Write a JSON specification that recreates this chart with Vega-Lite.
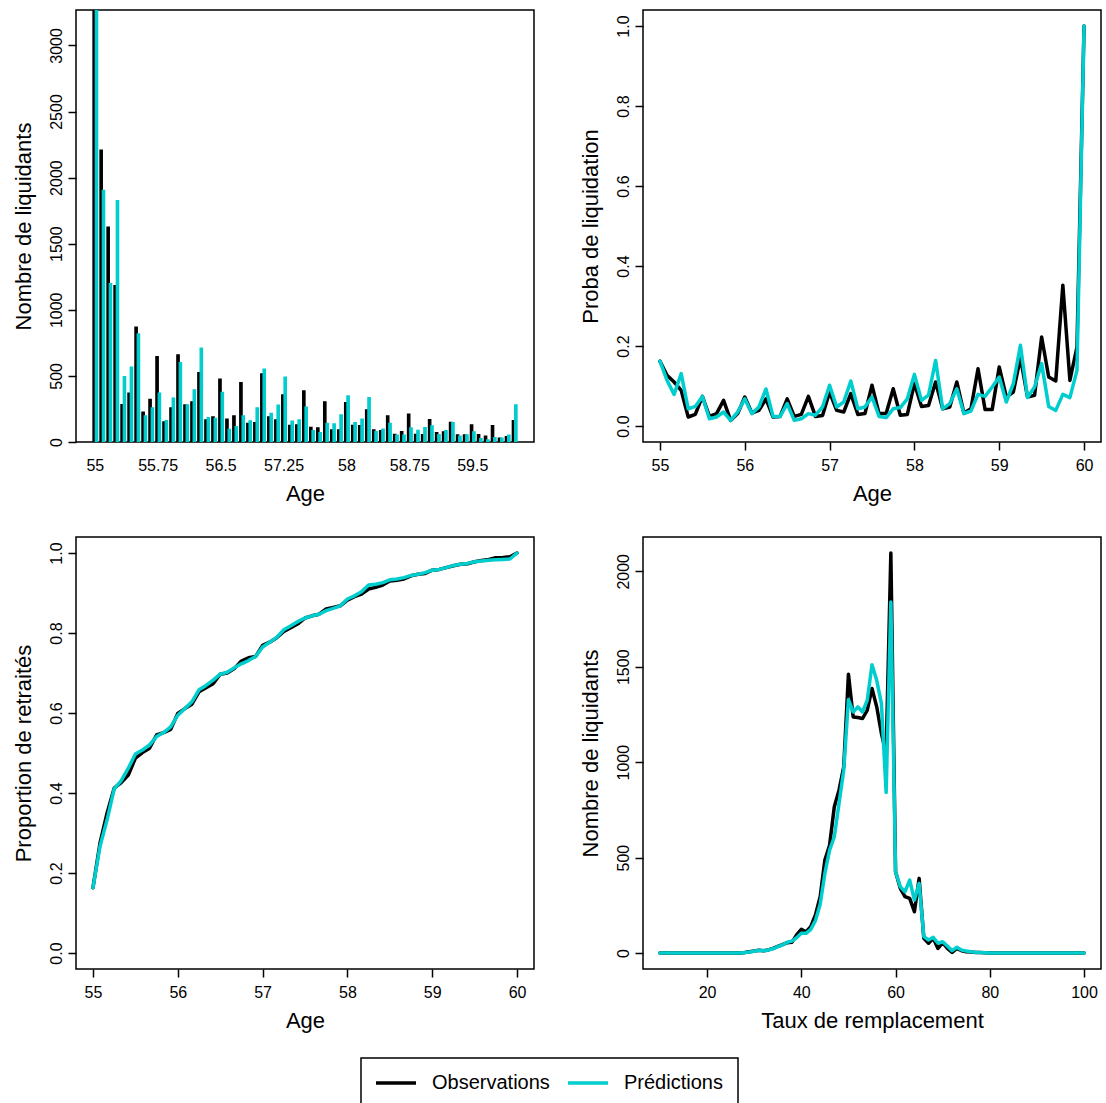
{
  "$schema": "https://vega.github.io/schema/vega-lite/v6.json",
  "padding": {"left": 11, "top": 9, "right": 5, "bottom": 0},
  "background": "white",
  "config": {
    "font": "Liberation Sans",
    "view": {"stroke": "black", "strokeWidth": 1.5},
    "axis": {"domain": false, "grid": false, "tickColor": "black", "tickWidth": 1.5, "labelColor": "black", "labelFont": "Liberation Sans", "labelFontSize": 16, "titleFont": "Liberation Sans", "titleFontSize": 22, "titleFontWeight": "normal", "titleColor": "black", "labelFlush": false, "labelOverlap": false},
    "legend": {"labelFontSize": 20, "labelColor": "black", "labelFont": "Liberation Sans", "strokeColor": "black", "strokeWidth": 1.5, "fillColor": "white"},
    "line": {"strokeWidth": 3.5, "strokeJoin": "round", "strokeCap": "round"}
  },
  "datasets": {
    "ages": [
      {"age":55,"serie":"Observations","n":3400,"proba":0.162,"cumul":0.163},
      {"age":55.0833,"serie":"Observations","n":2207,"proba":0.127,"cumul":0.275},
      {"age":55.1667,"serie":"Observations","n":1626,"proba":0.11,"cumul":0.35},
      {"age":55.25,"serie":"Observations","n":1182,"proba":0.089,"cumul":0.412},
      {"age":55.3333,"serie":"Observations","n":283,"proba":0.0225,"cumul":0.426},
      {"age":55.4167,"serie":"Observations","n":369,"proba":0.029,"cumul":0.445},
      {"age":55.5,"serie":"Observations","n":869,"proba":0.074,"cumul":0.487},
      {"age":55.5833,"serie":"Observations","n":225,"proba":0.024,"cumul":0.501},
      {"age":55.6667,"serie":"Observations","n":323,"proba":0.031,"cumul":0.512},
      {"age":55.75,"serie":"Observations","n":646,"proba":0.064,"cumul":0.545},
      {"age":55.8333,"serie":"Observations","n":152,"proba":0.014,"cumul":0.551},
      {"age":55.9167,"serie":"Observations","n":258,"proba":0.031,"cumul":0.559},
      {"age":56,"serie":"Observations","n":659,"proba":0.0725,"cumul":0.599},
      {"age":56.0833,"serie":"Observations","n":280,"proba":0.0325,"cumul":0.611},
      {"age":56.1667,"serie":"Observations","n":303,"proba":0.039,"cumul":0.622},
      {"age":56.25,"serie":"Observations","n":525,"proba":0.068,"cumul":0.653},
      {"age":56.3333,"serie":"Observations","n":167,"proba":0.0225,"cumul":0.663},
      {"age":56.4167,"serie":"Observations","n":189,"proba":0.024,"cumul":0.673},
      {"age":56.5,"serie":"Observations","n":475,"proba":0.068,"cumul":0.697},
      {"age":56.5833,"serie":"Observations","n":172,"proba":0.024,"cumul":0.7},
      {"age":56.6667,"serie":"Observations","n":197,"proba":0.029,"cumul":0.711},
      {"age":56.75,"serie":"Observations","n":449,"proba":0.074,"cumul":0.73},
      {"age":56.8333,"serie":"Observations","n":141,"proba":0.024,"cumul":0.738},
      {"age":56.9167,"serie":"Observations","n":146,"proba":0.026,"cumul":0.741},
      {"age":57,"serie":"Observations","n":515,"proba":0.085,"cumul":0.769},
      {"age":57.0833,"serie":"Observations","n":189,"proba":0.039,"cumul":0.777},
      {"age":57.1667,"serie":"Observations","n":167,"proba":0.035,"cumul":0.788},
      {"age":57.25,"serie":"Observations","n":356,"proba":0.081,"cumul":0.804},
      {"age":57.3333,"serie":"Observations","n":126,"proba":0.029,"cumul":0.813},
      {"age":57.4167,"serie":"Observations","n":129,"proba":0.031,"cumul":0.823},
      {"age":57.5,"serie":"Observations","n":386,"proba":0.102,"cumul":0.8375},
      {"age":57.5833,"serie":"Observations","n":111,"proba":0.031,"cumul":0.843},
      {"age":57.6667,"serie":"Observations","n":106,"proba":0.031,"cumul":0.847},
      {"age":57.75,"serie":"Observations","n":303,"proba":0.093,"cumul":0.86},
      {"age":57.8333,"serie":"Observations","n":91,"proba":0.027,"cumul":0.864},
      {"age":57.9167,"serie":"Observations","n":91,"proba":0.029,"cumul":0.868},
      {"age":58,"serie":"Observations","n":298,"proba":0.106,"cumul":0.882},
      {"age":58.0833,"serie":"Observations","n":126,"proba":0.049,"cumul":0.891},
      {"age":58.1667,"serie":"Observations","n":124,"proba":0.051,"cumul":0.897},
      {"age":58.25,"serie":"Observations","n":242,"proba":0.11,"cumul":0.91},
      {"age":58.3333,"serie":"Observations","n":91,"proba":0.043,"cumul":0.914},
      {"age":58.4167,"serie":"Observations","n":86,"proba":0.0475,"cumul":0.92},
      {"age":58.5,"serie":"Observations","n":197,"proba":0.11,"cumul":0.93},
      {"age":58.5833,"serie":"Observations","n":58,"proba":0.0325,"cumul":0.932},
      {"age":58.6667,"serie":"Observations","n":78,"proba":0.043,"cumul":0.935},
      {"age":58.75,"serie":"Observations","n":210,"proba":0.143,"cumul":0.943},
      {"age":58.8333,"serie":"Observations","n":58,"proba":0.041,"cumul":0.947},
      {"age":58.9167,"serie":"Observations","n":56,"proba":0.041,"cumul":0.949},
      {"age":59,"serie":"Observations","n":169,"proba":0.1475,"cumul":0.957},
      {"age":59.0833,"serie":"Observations","n":71,"proba":0.0725,"cumul":0.959},
      {"age":59.1667,"serie":"Observations","n":76,"proba":0.085,"cumul":0.9635},
      {"age":59.25,"serie":"Observations","n":149,"proba":0.171,"cumul":0.968},
      {"age":59.3333,"serie":"Observations","n":53,"proba":0.0725,"cumul":0.972},
      {"age":59.4167,"serie":"Observations","n":53,"proba":0.077,"cumul":0.973},
      {"age":59.5,"serie":"Observations","n":129,"proba":0.2225,"cumul":0.978},
      {"age":59.5833,"serie":"Observations","n":56,"proba":0.1225,"cumul":0.981},
      {"age":59.6667,"serie":"Observations","n":45,"proba":0.1125,"cumul":0.984},
      {"age":59.75,"serie":"Observations","n":124,"proba":0.352,"cumul":0.988},
      {"age":59.8333,"serie":"Observations","n":30,"proba":0.114,"cumul":0.989},
      {"age":59.9167,"serie":"Observations","n":40,"proba":0.1975,"cumul":0.9905},
      {"age":60,"serie":"Observations","n":162,"proba":1,"cumul":1},
      {"age":55,"serie":"Prédictions","n":3350,"proba":0.162,"cumul":0.163},
      {"age":55.0833,"serie":"Prédictions","n":1904,"proba":0.114,"cumul":0.267},
      {"age":55.1667,"serie":"Prédictions","n":1197,"proba":0.079,"cumul":0.333},
      {"age":55.25,"serie":"Prédictions","n":1826,"proba":0.131,"cumul":0.41},
      {"age":55.3333,"serie":"Prédictions","n":495,"proba":0.043,"cumul":0.431},
      {"age":55.4167,"serie":"Prédictions","n":566,"proba":0.049,"cumul":0.462},
      {"age":55.5,"serie":"Prédictions","n":818,"proba":0.074,"cumul":0.4975},
      {"age":55.5833,"serie":"Prédictions","n":197,"proba":0.018,"cumul":0.5075},
      {"age":55.6667,"serie":"Prédictions","n":258,"proba":0.0225,"cumul":0.52},
      {"age":55.75,"serie":"Prédictions","n":369,"proba":0.035,"cumul":0.541},
      {"age":55.8333,"serie":"Prédictions","n":162,"proba":0.014,"cumul":0.551},
      {"age":55.9167,"serie":"Prédictions","n":331,"proba":0.035,"cumul":0.5655},
      {"age":56,"serie":"Prédictions","n":601,"proba":0.068,"cumul":0.5945},
      {"age":56.0833,"serie":"Prédictions","n":280,"proba":0.031,"cumul":0.611},
      {"age":56.1667,"serie":"Prédictions","n":394,"proba":0.0475,"cumul":0.628},
      {"age":56.25,"serie":"Prédictions","n":710,"proba":0.0925,"cumul":0.658},
      {"age":56.3333,"serie":"Prédictions","n":184,"proba":0.024,"cumul":0.669},
      {"age":56.4167,"serie":"Prédictions","n":179,"proba":0.024,"cumul":0.682},
      {"age":56.5,"serie":"Prédictions","n":376,"proba":0.056,"cumul":0.697},
      {"age":56.5833,"serie":"Prédictions","n":96,"proba":0.014,"cumul":0.702},
      {"age":56.6667,"serie":"Prédictions","n":116,"proba":0.018,"cumul":0.713},
      {"age":56.75,"serie":"Prédictions","n":197,"proba":0.031,"cumul":0.723},
      {"age":56.8333,"serie":"Prédictions","n":159,"proba":0.027,"cumul":0.731},
      {"age":56.9167,"serie":"Prédictions","n":258,"proba":0.0475,"cumul":0.741},
      {"age":57,"serie":"Prédictions","n":551,"proba":0.102,"cumul":0.765},
      {"age":57.0833,"serie":"Prédictions","n":217,"proba":0.0475,"cumul":0.777},
      {"age":57.1667,"serie":"Prédictions","n":278,"proba":0.06,"cumul":0.789},
      {"age":57.25,"serie":"Prédictions","n":490,"proba":0.1125,"cumul":0.808},
      {"age":57.3333,"serie":"Prédictions","n":157,"proba":0.043,"cumul":0.818},
      {"age":57.4167,"serie":"Prédictions","n":167,"proba":0.0475,"cumul":0.829},
      {"age":57.5,"serie":"Prédictions","n":263,"proba":0.0725,"cumul":0.8375},
      {"age":57.5833,"serie":"Prédictions","n":86,"proba":0.024,"cumul":0.843},
      {"age":57.6667,"serie":"Prédictions","n":71,"proba":0.021,"cumul":0.847},
      {"age":57.75,"serie":"Prédictions","n":141,"proba":0.043,"cumul":0.856},
      {"age":57.8333,"serie":"Prédictions","n":136,"proba":0.046,"cumul":0.8615},
      {"age":57.9167,"serie":"Prédictions","n":205,"proba":0.068,"cumul":0.868},
      {"age":58,"serie":"Prédictions","n":348,"proba":0.129,"cumul":0.885},
      {"age":58.0833,"serie":"Prédictions","n":146,"proba":0.064,"cumul":0.893},
      {"age":58.1667,"serie":"Prédictions","n":172,"proba":0.077,"cumul":0.903},
      {"age":58.25,"serie":"Prédictions","n":336,"proba":0.164,"cumul":0.92},
      {"age":58.3333,"serie":"Prédictions","n":78,"proba":0.043,"cumul":0.922},
      {"age":58.4167,"serie":"Prédictions","n":98,"proba":0.056,"cumul":0.926},
      {"age":58.5,"serie":"Prédictions","n":141,"proba":0.093,"cumul":0.933},
      {"age":58.5833,"serie":"Prédictions","n":51,"proba":0.031,"cumul":0.935},
      {"age":58.6667,"serie":"Prédictions","n":51,"proba":0.0375,"cumul":0.9385},
      {"age":58.75,"serie":"Prédictions","n":106,"proba":0.079,"cumul":0.944},
      {"age":58.8333,"serie":"Prédictions","n":88,"proba":0.074,"cumul":0.947},
      {"age":58.9167,"serie":"Prédictions","n":109,"proba":0.0975,"cumul":0.951},
      {"age":59,"serie":"Prédictions","n":121,"proba":0.1225,"cumul":0.957},
      {"age":59.0833,"serie":"Prédictions","n":56,"proba":0.06,"cumul":0.959},
      {"age":59.1667,"serie":"Prédictions","n":86,"proba":0.106,"cumul":0.9635},
      {"age":59.25,"serie":"Prédictions","n":146,"proba":0.2017,"cumul":0.969},
      {"age":59.3333,"serie":"Prédictions","n":45,"proba":0.071,"cumul":0.972},
      {"age":59.4167,"serie":"Prédictions","n":53,"proba":0.0975,"cumul":0.974},
      {"age":59.5,"serie":"Prédictions","n":76,"proba":0.156,"cumul":0.978},
      {"age":59.5833,"serie":"Prédictions","n":25,"proba":0.049,"cumul":0.98},
      {"age":59.6667,"serie":"Prédictions","n":15,"proba":0.039,"cumul":0.982},
      {"age":59.75,"serie":"Prédictions","n":33,"proba":0.079,"cumul":0.983},
      {"age":59.8333,"serie":"Prédictions","n":30,"proba":0.071,"cumul":0.984},
      {"age":59.9167,"serie":"Prédictions","n":51,"proba":0.139,"cumul":0.985},
      {"age":60,"serie":"Prédictions","n":280,"proba":1,"cumul":1}
    ],
    "taux": [
      {"taux":10,"serie":"Observations","n":0},{"taux":11,"serie":"Observations","n":0},{"taux":12,"serie":"Observations","n":0},{"taux":13,"serie":"Observations","n":0},{"taux":14,"serie":"Observations","n":0},{"taux":15,"serie":"Observations","n":0},{"taux":16,"serie":"Observations","n":0},{"taux":17,"serie":"Observations","n":0},{"taux":18,"serie":"Observations","n":0},{"taux":19,"serie":"Observations","n":0},
      {"taux":20,"serie":"Observations","n":0},{"taux":21,"serie":"Observations","n":0},{"taux":22,"serie":"Observations","n":0},{"taux":23,"serie":"Observations","n":0},{"taux":24,"serie":"Observations","n":0},{"taux":25,"serie":"Observations","n":0},{"taux":26,"serie":"Observations","n":0},{"taux":27,"serie":"Observations","n":0},{"taux":28,"serie":"Observations","n":3},{"taux":29,"serie":"Observations","n":7},
      {"taux":30,"serie":"Observations","n":10},{"taux":31,"serie":"Observations","n":14},{"taux":32,"serie":"Observations","n":12},{"taux":33,"serie":"Observations","n":16},{"taux":34,"serie":"Observations","n":24},{"taux":35,"serie":"Observations","n":35},{"taux":36,"serie":"Observations","n":44},{"taux":37,"serie":"Observations","n":54},{"taux":38,"serie":"Observations","n":56},{"taux":39,"serie":"Observations","n":95},
      {"taux":40,"serie":"Observations","n":124},{"taux":41,"serie":"Observations","n":110},{"taux":42,"serie":"Observations","n":138},{"taux":43,"serie":"Observations","n":200},{"taux":44,"serie":"Observations","n":295},{"taux":45,"serie":"Observations","n":487},{"taux":46,"serie":"Observations","n":565},{"taux":47,"serie":"Observations","n":766},{"taux":48,"serie":"Observations","n":853},{"taux":49,"serie":"Observations","n":976},
      {"taux":50,"serie":"Observations","n":1461},{"taux":51,"serie":"Observations","n":1237},{"taux":52,"serie":"Observations","n":1234},{"taux":53,"serie":"Observations","n":1229},{"taux":54,"serie":"Observations","n":1272},{"taux":55,"serie":"Observations","n":1386},{"taux":56,"serie":"Observations","n":1290},{"taux":57,"serie":"Observations","n":1150},{"taux":58,"serie":"Observations","n":1045},{"taux":59,"serie":"Observations","n":2096},
      {"taux":60,"serie":"Observations","n":426},{"taux":61,"serie":"Observations","n":339},{"taux":62,"serie":"Observations","n":295},{"taux":63,"serie":"Observations","n":286},{"taux":64,"serie":"Observations","n":216},{"taux":65,"serie":"Observations","n":391},{"taux":66,"serie":"Observations","n":77},{"taux":67,"serie":"Observations","n":51},{"taux":68,"serie":"Observations","n":77},{"taux":69,"serie":"Observations","n":24},
      {"taux":70,"serie":"Observations","n":54},{"taux":71,"serie":"Observations","n":24},{"taux":72,"serie":"Observations","n":3},{"taux":73,"serie":"Observations","n":24},{"taux":74,"serie":"Observations","n":12},{"taux":75,"serie":"Observations","n":7},{"taux":76,"serie":"Observations","n":5},{"taux":77,"serie":"Observations","n":3},{"taux":78,"serie":"Observations","n":2},{"taux":79,"serie":"Observations","n":1},
      {"taux":80,"serie":"Observations","n":0},{"taux":81,"serie":"Observations","n":0},{"taux":82,"serie":"Observations","n":0},{"taux":83,"serie":"Observations","n":0},{"taux":84,"serie":"Observations","n":0},{"taux":85,"serie":"Observations","n":0},{"taux":86,"serie":"Observations","n":0},{"taux":87,"serie":"Observations","n":0},{"taux":88,"serie":"Observations","n":0},{"taux":89,"serie":"Observations","n":0},
      {"taux":90,"serie":"Observations","n":0},{"taux":91,"serie":"Observations","n":0},{"taux":92,"serie":"Observations","n":0},{"taux":93,"serie":"Observations","n":0},{"taux":94,"serie":"Observations","n":0},{"taux":95,"serie":"Observations","n":0},{"taux":96,"serie":"Observations","n":0},{"taux":97,"serie":"Observations","n":0},{"taux":98,"serie":"Observations","n":0},{"taux":99,"serie":"Observations","n":0},{"taux":100,"serie":"Observations","n":0},
      {"taux":10,"serie":"Prédictions","n":0},{"taux":11,"serie":"Prédictions","n":0},{"taux":12,"serie":"Prédictions","n":0},{"taux":13,"serie":"Prédictions","n":0},{"taux":14,"serie":"Prédictions","n":0},{"taux":15,"serie":"Prédictions","n":0},{"taux":16,"serie":"Prédictions","n":0},{"taux":17,"serie":"Prédictions","n":0},{"taux":18,"serie":"Prédictions","n":0},{"taux":19,"serie":"Prédictions","n":0},
      {"taux":20,"serie":"Prédictions","n":0},{"taux":21,"serie":"Prédictions","n":0},{"taux":22,"serie":"Prédictions","n":0},{"taux":23,"serie":"Prédictions","n":0},{"taux":24,"serie":"Prédictions","n":0},{"taux":25,"serie":"Prédictions","n":0},{"taux":26,"serie":"Prédictions","n":0},{"taux":27,"serie":"Prédictions","n":0},{"taux":28,"serie":"Prédictions","n":2},{"taux":29,"serie":"Prédictions","n":5},
      {"taux":30,"serie":"Prédictions","n":9},{"taux":31,"serie":"Prédictions","n":14},{"taux":32,"serie":"Prédictions","n":12},{"taux":33,"serie":"Prédictions","n":16},{"taux":34,"serie":"Prédictions","n":22},{"taux":35,"serie":"Prédictions","n":33},{"taux":36,"serie":"Prédictions","n":42},{"taux":37,"serie":"Prédictions","n":56},{"taux":38,"serie":"Prédictions","n":62},{"taux":39,"serie":"Prédictions","n":80},
      {"taux":40,"serie":"Prédictions","n":103},{"taux":41,"serie":"Prédictions","n":103},{"taux":42,"serie":"Prédictions","n":124},{"taux":43,"serie":"Prédictions","n":170},{"taux":44,"serie":"Prédictions","n":255},{"taux":45,"serie":"Prédictions","n":417},{"taux":46,"serie":"Prédictions","n":539},{"taux":47,"serie":"Prédictions","n":609},{"taux":48,"serie":"Prédictions","n":784},{"taux":49,"serie":"Prédictions","n":958},
      {"taux":50,"serie":"Prédictions","n":1328},{"taux":51,"serie":"Prédictions","n":1263},{"taux":52,"serie":"Prédictions","n":1290},{"taux":53,"serie":"Prédictions","n":1263},{"taux":54,"serie":"Prédictions","n":1325},{"taux":55,"serie":"Prédictions","n":1511},{"taux":56,"serie":"Prédictions","n":1429},{"taux":57,"serie":"Prédictions","n":1307},{"taux":58,"serie":"Prédictions","n":841},{"taux":59,"serie":"Prédictions","n":1839},
      {"taux":60,"serie":"Prédictions","n":426},{"taux":61,"serie":"Prédictions","n":347},{"taux":62,"serie":"Prédictions","n":321},{"taux":63,"serie":"Prédictions","n":382},{"taux":64,"serie":"Prédictions","n":277},{"taux":65,"serie":"Prédictions","n":365},{"taux":66,"serie":"Prédictions","n":86},{"taux":67,"serie":"Prédictions","n":68},{"taux":68,"serie":"Prédictions","n":82},{"taux":69,"serie":"Prédictions","n":51},
      {"taux":70,"serie":"Prédictions","n":59},{"taux":71,"serie":"Prédictions","n":37},{"taux":72,"serie":"Prédictions","n":12},{"taux":73,"serie":"Prédictions","n":30},{"taux":74,"serie":"Prédictions","n":16},{"taux":75,"serie":"Prédictions","n":10},{"taux":76,"serie":"Prédictions","n":7},{"taux":77,"serie":"Prédictions","n":4},{"taux":78,"serie":"Prédictions","n":2},{"taux":79,"serie":"Prédictions","n":1},
      {"taux":80,"serie":"Prédictions","n":0},{"taux":81,"serie":"Prédictions","n":0},{"taux":82,"serie":"Prédictions","n":0},{"taux":83,"serie":"Prédictions","n":0},{"taux":84,"serie":"Prédictions","n":0},{"taux":85,"serie":"Prédictions","n":0},{"taux":86,"serie":"Prédictions","n":0},{"taux":87,"serie":"Prédictions","n":0},{"taux":88,"serie":"Prédictions","n":0},{"taux":89,"serie":"Prédictions","n":0},
      {"taux":90,"serie":"Prédictions","n":0},{"taux":91,"serie":"Prédictions","n":0},{"taux":92,"serie":"Prédictions","n":0},{"taux":93,"serie":"Prédictions","n":0},{"taux":94,"serie":"Prédictions","n":0},{"taux":95,"serie":"Prédictions","n":0},{"taux":96,"serie":"Prédictions","n":0},{"taux":97,"serie":"Prédictions","n":0},{"taux":98,"serie":"Prédictions","n":0},{"taux":99,"serie":"Prédictions","n":0},{"taux":100,"serie":"Prédictions","n":0}
    ]
  },
  "columns": 2,
  "spacing": {"row": 95, "column": 109},
  "bounds": "flush",
  "concat": [
    {
      "width": 458, "height": 432,
      "data": {"name": "ages"},
      "mark": {"type": "bar", "clip": true, "strokeWidth": 1.3},
      "encoding": {
        "x": {"field": "age", "type": "ordinal",
          "scale": {"paddingInner": 0.3333, "paddingOuter": 0, "range": [17, 441]},
          "axis": {"title": "Age", "values": [55, 55.75, 56.5, 57.25, 58, 58.75, 59.5], "ticks": false, "tickSize": 0, "labelPadding": 15.5, "labelAngle": 0, "labelAlign": "center", "labelBaseline": "top", "titleAngle": 0, "titleAlign": "center", "titleBaseline": "alphabetic", "titleX": 229, "titleY": 58}},
        "xOffset": {"field": "serie", "type": "nominal", "sort": ["Observations", "Prédictions"], "scale": {"paddingInner": 0, "paddingOuter": 0}},
        "y": {"field": "n", "type": "quantitative",
          "scale": {"domain": [0, 3268], "nice": false, "zero": false},
          "axis": {"title": "Nombre de liquidants", "values": [0, 500, 1000, 1500, 2000, 2500, 3000], "format": "d", "labelAngle": -90, "labelAlign": "center", "labelBaseline": "alphabetic", "labelPadding": 7, "tickSize": 8, "titleAngle": -90, "titleAlign": "center", "titleBaseline": "alphabetic", "titleX": -46, "titleY": 216}},
        "color": {"field": "serie", "type": "nominal", "scale": {"domain": ["Observations", "Prédictions"], "range": ["#000000", "#00CDCD"]},
          "legend": {"orient": "none", "legendX": 285, "legendY": 1048, "title": null, "direction": "horizontal", "padding": 15, "labelOffset": 36, "columnPadding": 16, "symbolType": "M-1.25,0H3.75", "symbolSize": 256, "symbolStrokeWidth": 4}},
        "stroke": {"field": "serie", "type": "nominal", "scale": {"domain": ["Observations", "Prédictions"], "range": ["#000000", "#00CDCD"]}, "legend": null}
      }
    },
    {
      "width": 458, "height": 432,
      "data": {"name": "ages"},
      "mark": {"type": "line", "clip": true},
      "encoding": {
        "x": {"field": "age", "type": "quantitative",
          "scale": {"domain": [54.8, 60.2], "nice": false, "zero": false},
          "axis": {"title": "Age", "values": [55, 56, 57, 58, 59, 60], "format": "d", "tickSize": 8, "labelPadding": 7.5, "labelAngle": 0, "labelAlign": "center", "labelBaseline": "top", "titleAngle": 0, "titleAlign": "center", "titleBaseline": "alphabetic", "titleX": 229, "titleY": 58}},
        "y": {"field": "proba", "type": "quantitative",
          "scale": {"domain": [-0.04, 1.04], "nice": false, "zero": false},
          "axis": {"title": "Proba de liquidation", "values": [0, 0.2, 0.4, 0.6, 0.8, 1], "format": ".1f", "labelAngle": -90, "labelAlign": "center", "labelBaseline": "alphabetic", "labelPadding": 7, "tickSize": 8, "titleAngle": -90, "titleAlign": "center", "titleBaseline": "alphabetic", "titleX": -46, "titleY": 216}},
        "color": {"field": "serie", "type": "nominal"}
      }
    },
    {
      "width": 458, "height": 432,
      "data": {"name": "ages"},
      "mark": {"type": "line", "clip": true},
      "encoding": {
        "x": {"field": "age", "type": "quantitative",
          "scale": {"domain": [54.8, 60.2], "nice": false, "zero": false},
          "axis": {"title": "Age", "values": [55, 56, 57, 58, 59, 60], "format": "d", "tickSize": 8, "labelPadding": 7.5, "labelAngle": 0, "labelAlign": "center", "labelBaseline": "top", "titleAngle": 0, "titleAlign": "center", "titleBaseline": "alphabetic", "titleX": 229, "titleY": 58}},
        "y": {"field": "cumul", "type": "quantitative",
          "scale": {"domain": [-0.04, 1.04], "nice": false, "zero": false},
          "axis": {"title": "Proportion de retraités", "values": [0, 0.2, 0.4, 0.6, 0.8, 1], "format": ".1f", "labelAngle": -90, "labelAlign": "center", "labelBaseline": "alphabetic", "labelPadding": 7, "tickSize": 8, "titleAngle": -90, "titleAlign": "center", "titleBaseline": "alphabetic", "titleX": -46, "titleY": 216}},
        "color": {"field": "serie", "type": "nominal"}
      }
    },
    {
      "width": 458, "height": 432,
      "data": {"name": "taux"},
      "mark": {"type": "line", "clip": true},
      "encoding": {
        "x": {"field": "taux", "type": "quantitative",
          "scale": {"domain": [6.4, 103.6], "nice": false, "zero": false},
          "axis": {"title": "Taux de remplacement", "values": [20, 40, 60, 80, 100], "format": "d", "tickSize": 8, "labelPadding": 7.5, "labelAngle": 0, "labelAlign": "center", "labelBaseline": "top", "titleAngle": 0, "titleAlign": "center", "titleBaseline": "alphabetic", "titleX": 229, "titleY": 58}},
        "y": {"field": "n", "type": "quantitative",
          "scale": {"domain": [-83.84, 2179.84], "nice": false, "zero": false},
          "axis": {"title": "Nombre de liquidants", "values": [0, 500, 1000, 1500, 2000], "format": "d", "labelAngle": -90, "labelAlign": "center", "labelBaseline": "alphabetic", "labelPadding": 7, "tickSize": 8, "titleAngle": -90, "titleAlign": "center", "titleBaseline": "alphabetic", "titleX": -46, "titleY": 216}},
        "color": {"field": "serie", "type": "nominal"}
      }
    }
  ]
}
